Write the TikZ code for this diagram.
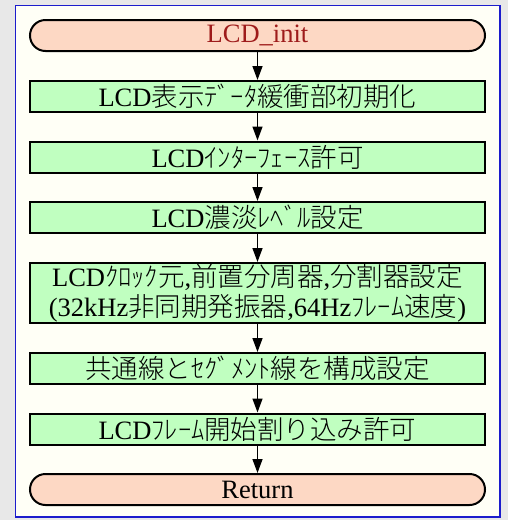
\documentclass[tikz,border=0pt]{standalone}
\usepackage{fontspec}
\setmainfont{Liberation Serif}
\newfontfamily\jpfont{Noto Sans CJK JP Light}
\newcommand\J[1]{{\jpfont #1}}
\usetikzlibrary{arrows.meta}
\definecolor{bgout}{HTML}{E8E8E8}
\definecolor{panel}{HTML}{FFFFF6}
\definecolor{panelborder}{HTML}{1C1CCC}
\definecolor{procfill}{HTML}{C0FFC0}
\definecolor{termfill}{HTML}{FDD8C4}
\definecolor{termtext}{HTML}{9E1B1B}
\tikzset{
  base/.style={draw=black, line width=2pt, minimum width=455pt, inner sep=0pt,
    font=\fontsize{26.5}{30}\selectfont, align=center},
  proc/.style={base, fill=procfill, minimum height=31pt},
  term/.style={base, fill=termfill, minimum height=31pt, rounded corners=15.5pt},
  flow/.style={line width=1.5pt, -{Triangle[width=10pt,length=14pt]}}
}
\begin{document}
\begin{tikzpicture}[x=1pt,y=-1pt]
\useasboundingbox (0,0) rectangle (508,520);
\fill[bgout] (0,0) rectangle (508,520);
\draw[panelborder, fill=panel, line width=1.5pt] (15.5,5.5) rectangle (500,517);
\node[term, text=termtext] (start) at (257.5,35.5) {LCD\_init};
\node[proc] (b1) at (257.5,96.5) {LCD\J{表示ﾃﾞｰﾀ緩衝部初期化}};
\node[proc] (b2) at (257.5,157) {LCD\J{ｲﾝﾀｰﾌｪｰｽ許可}};
\node[proc] (b3) at (257.5,217.5) {LCD\J{濃淡ﾚﾍﾞﾙ設定}};
\node[proc, minimum height=60pt] (b4) at (257.5,293) {LCD\J{ｸﾛｯｸ元},\J{前置分周器},\J{分割器設定}\\(32kHz\J{非同期発振器},64Hz\J{ﾌﾚｰﾑ速度})};
\node[proc] (b5) at (257.5,368.5) {\J{共通線とｾｸﾞﾒﾝﾄ線を構成設定}};
\node[proc] (b6) at (257.5,429) {LCD\J{ﾌﾚｰﾑ開始割り込み許可}};
\node[term] (ret) at (257.5,489.5) {Return};
\draw[flow] (start) -- (b1);
\draw[flow] (b1) -- (b2);
\draw[flow] (b2) -- (b3);
\draw[flow] (b3) -- (b4);
\draw[flow] (b4) -- (b5);
\draw[flow] (b5) -- (b6);
\draw[flow] (b6) -- (ret);
\end{tikzpicture}
\end{document}
